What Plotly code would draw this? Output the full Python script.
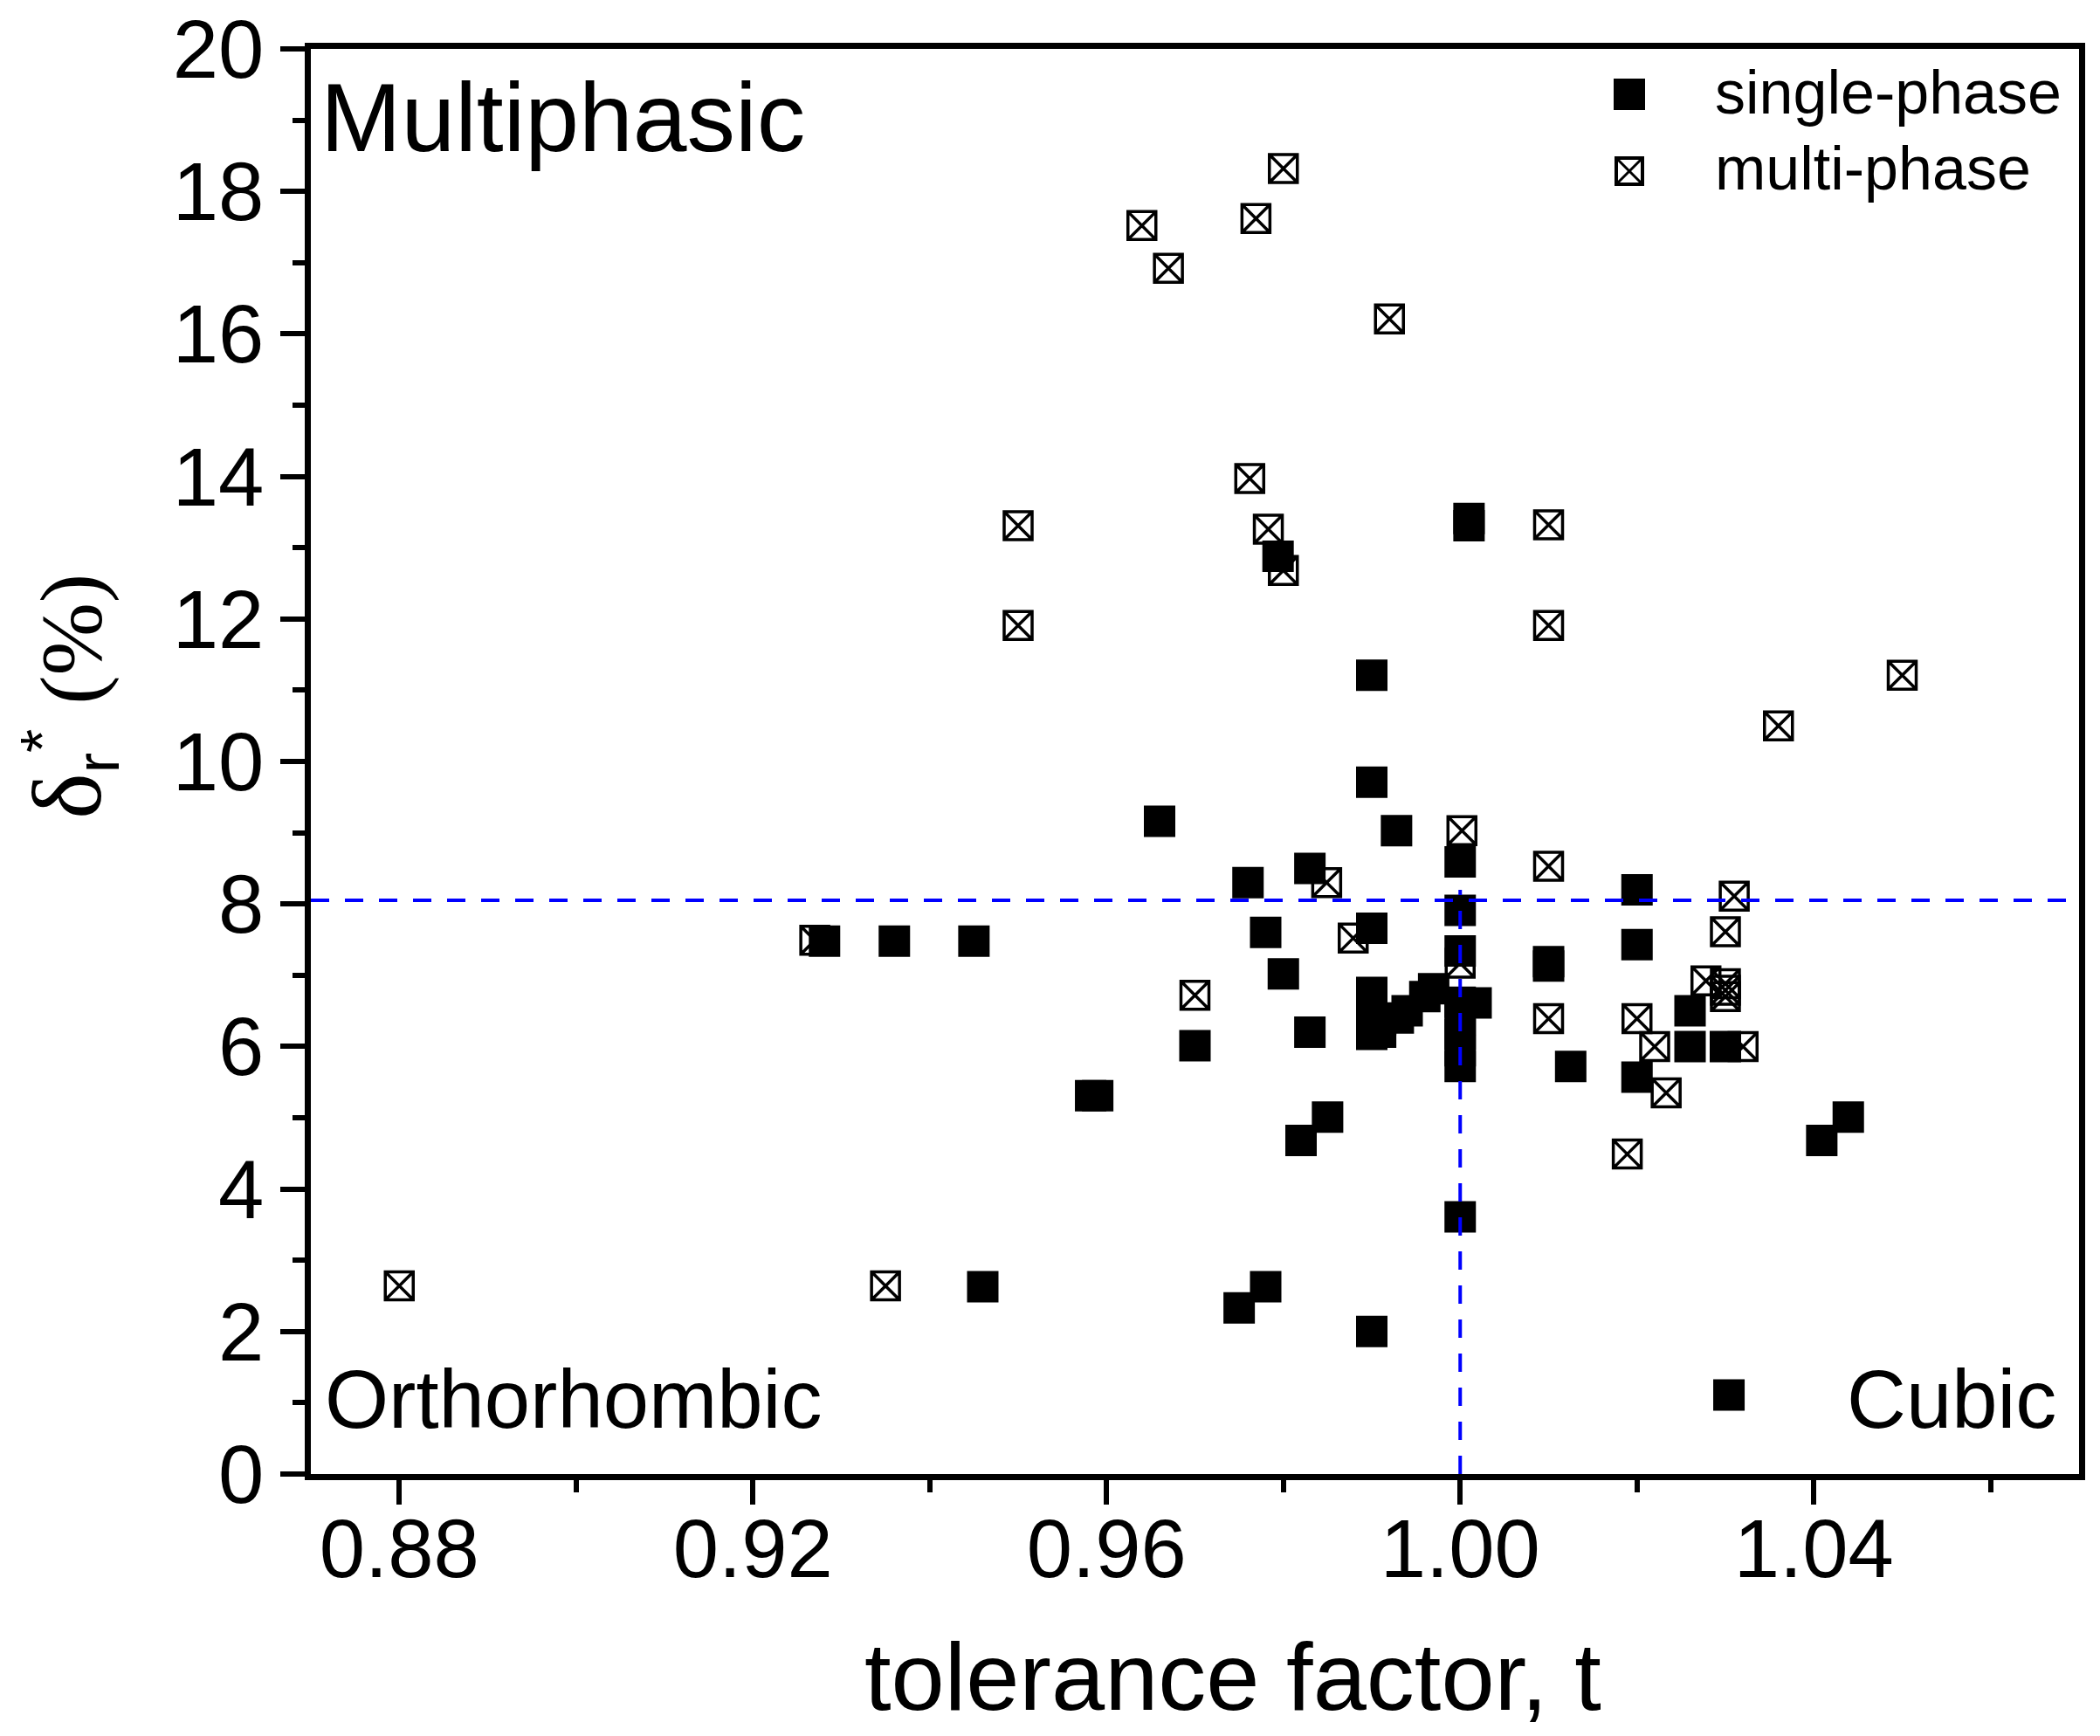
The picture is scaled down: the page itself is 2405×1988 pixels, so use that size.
import plotly.graph_objects as go

# single-phase samples: tolerance factor t, delta_r* (%)
single_t = [0.9281, 0.936, 0.945, 0.946, 0.9582, 0.959, 0.966, 0.970, 0.975, 0.976,
            0.978, 0.978, 0.980, 0.9794, 0.982, 0.983, 0.983, 0.985, 0.990, 0.990,
            0.990, 0.990, 0.990, 0.990, 0.990, 0.991, 0.991, 0.9928, 0.993, 0.994,
            0.996, 0.997, 1.000, 1.000, 1.000, 1.000, 1.000, 1.000, 1.000, 1.000,
            1.000, 1.001, 1.001, 1.0018, 1.010, 1.010, 1.0125, 1.020, 1.020, 1.020,
            1.026, 1.026, 1.030, 1.0409, 1.0439]
single_d = [7.48, 7.48, 7.48, 2.63, 5.31, 5.31, 9.16, 6.01, 2.33, 8.30,
            2.63, 7.60, 7.02, 12.88, 4.68, 8.50, 6.20, 5.01, 11.21, 9.71,
            7.66, 6.76, 6.50, 6.17, 2.00, 6.38, 6.20, 9.03, 6.40, 6.50,
            6.70, 6.81, 8.59, 7.91, 7.34, 6.62, 6.38, 6.17, 5.94, 5.72,
            3.61, 13.41, 13.31, 6.61, 7.19, 7.13, 5.72, 8.20, 7.43, 5.57,
            6.50, 6.00, 6.00, 4.68, 5.01]

# multi-phase samples
multi_t = [0.880, 0.927, 0.935, 0.950, 0.950, 0.964, 0.967, 0.970, 0.9762, 0.9769,
           0.9783, 0.980, 0.980, 0.9849, 0.9879, 0.992, 1.0002, 1.000, 1.010, 1.010,
           1.010, 1.010, 1.0189, 1.020, 1.022, 1.0233, 1.0278, 1.030, 1.030, 1.030,
           1.030, 1.031, 1.032, 1.036, 1.050]
multi_d = [2.64, 7.49, 2.64, 13.31, 11.91, 17.52, 16.92, 6.72, 13.97, 17.62,
           13.26, 18.32, 12.68, 8.30, 7.52, 16.21, 9.03, 7.17, 13.32, 11.91,
           8.53, 6.39, 4.49, 6.39, 6.00, 5.35, 6.92, 6.88, 6.79, 6.70,
           7.61, 8.11, 6.00, 10.50, 11.21]

# key square drawn next to the "Cubic" label
cubic_key_t = [1.0304]
cubic_key_d = [1.11]

# reference lines
t_ideal = 1.00
d_limit = 8.05
t_line_top = 8.2

# page size and plot box in page pixels
W, H = 2405, 1988
L, R, T, B = 356, 24, 56, 300
FONT = "Liberation Sans"
SERIF = "Liberation Serif"


def px(x):
    return (x - L) / (W - L - R)


def py(y):
    return (H - B - y) / (H - T - B)


fig = go.Figure()

fig.add_trace(go.Scatter(
    x=multi_t, y=multi_d, mode="markers", name="multi-phase", showlegend=False,
    marker=dict(symbol="square-x-open", size=32, color="black",
                line=dict(width=3.5, color="black")),
))
fig.add_trace(go.Scatter(
    x=single_t, y=single_d, mode="markers", name="single-phase", showlegend=False,
    marker=dict(symbol="square", size=36, color="black"),
))
fig.add_trace(go.Scatter(
    x=cubic_key_t, y=cubic_key_d, mode="markers", showlegend=False,
    marker=dict(symbol="square", size=36, color="black"),
))

fig.add_shape(type="line", xref="paper", yref="y", x0=0, x1=1, y0=d_limit, y1=d_limit,
              line=dict(color="#0000ff", width=4, dash="21px,18px"))
fig.add_shape(type="line", xref="x", yref="y", x0=t_ideal, x1=t_ideal, y0=0, y1=t_line_top,
              line=dict(color="#0000ff", width=4, dash="21px,18px"))

# hand-made legend (plotly caps legend symbol size)
lx, s1, s2 = 1866, 108, 196
fig.add_shape(type="rect", xref="paper", yref="paper",
              x0=px(lx - 18), x1=px(lx + 18), y0=py(s1 - 18), y1=py(s1 + 18),
              fillcolor="black", line=dict(width=0))
half = 15
fig.add_shape(type="rect", xref="paper", yref="paper",
              x0=px(lx - half), x1=px(lx + half), y0=py(s2 - half), y1=py(s2 + half),
              line=dict(color="black", width=4))
fig.add_shape(type="line", xref="paper", yref="paper",
              x0=px(lx - half), x1=px(lx + half), y0=py(s2 - half), y1=py(s2 + half),
              line=dict(color="black", width=3))
fig.add_shape(type="line", xref="paper", yref="paper",
              x0=px(lx - half), x1=px(lx + half), y0=py(s2 + half), y1=py(s2 - half),
              line=dict(color="black", width=3))

axis_common = dict(
    showline=True, linecolor="black", linewidth=7, mirror=True,
    ticks="outside", ticklen=28, tickwidth=6, tickcolor="black",
    showgrid=False, zeroline=False, ticklabeloverflow="allow", automargin=False,
    tickfont=dict(family=FONT, size=94, color="black"),
)

fig.update_xaxes(range=[0.87, 1.07], tick0=0.88, dtick=0.04, tickformat=".2f",
                 ticklabelstandoff=-30,
                 minor=dict(dtick=0.02, ticks="outside", ticklen=14, tickwidth=6,
                            tickcolor="black", showgrid=False),
                 **axis_common)
fig.update_yaxes(range=[0, 20], tick0=0, dtick=2,
                 minor=dict(dtick=1, ticks="outside", ticklen=14, tickwidth=6,
                            tickcolor="black", showgrid=False),
                 **axis_common)

ytitle = ("<span style='font-family:" + SERIF + ";font-size:112px'>δ</span>"
          "<sub>r</sub><sup>*</sup> "
          "<span style='font-family:" + SERIF + "'>(%)</span>")

anns = [
    dict(text="Multiphasic", x=px(365), y=py(135), xanchor="left", yanchor="middle",
         font=dict(family=FONT, size=111, color="black")),
    dict(text="Orthorhombic", x=px(370), y=py(1602), xanchor="left", yanchor="middle",
         font=dict(family=FONT, size=94, color="black")),
    dict(text="Cubic", x=px(2357), y=py(1602), xanchor="right", yanchor="middle",
         font=dict(family=FONT, size=94, color="black")),
    dict(text="single-phase", x=px(1962), y=py(106), xanchor="left", yanchor="middle",
         font=dict(family=FONT, size=70, color="black")),
    dict(text="multi-phase", x=px(1962), y=py(193), xanchor="left", yanchor="middle",
         font=dict(family=FONT, size=70, color="black")),
    dict(text="tolerance factor, t", x=px(1412), y=py(1919), xanchor="center",
         yanchor="middle", font=dict(family=FONT, size=110, color="black")),
    dict(text=ytitle, x=px(80), y=py(798), xanchor="center", yanchor="middle",
         textangle=-90, font=dict(family=FONT, size=100, color="black")),
]
for a in anns:
    a.update(xref="paper", yref="paper", showarrow=False)

fig.update_layout(
    width=W, height=H,
    margin=dict(l=L, r=R, t=T, b=B),
    paper_bgcolor="white", plot_bgcolor="white",
    showlegend=False,
    annotations=anns,
)

# drop the default 8px body margin so the figure fills the window exactly
fig.write_html("out.html", config={"displayModeBar": False},
               post_script="document.body.style.margin = '0px';")
